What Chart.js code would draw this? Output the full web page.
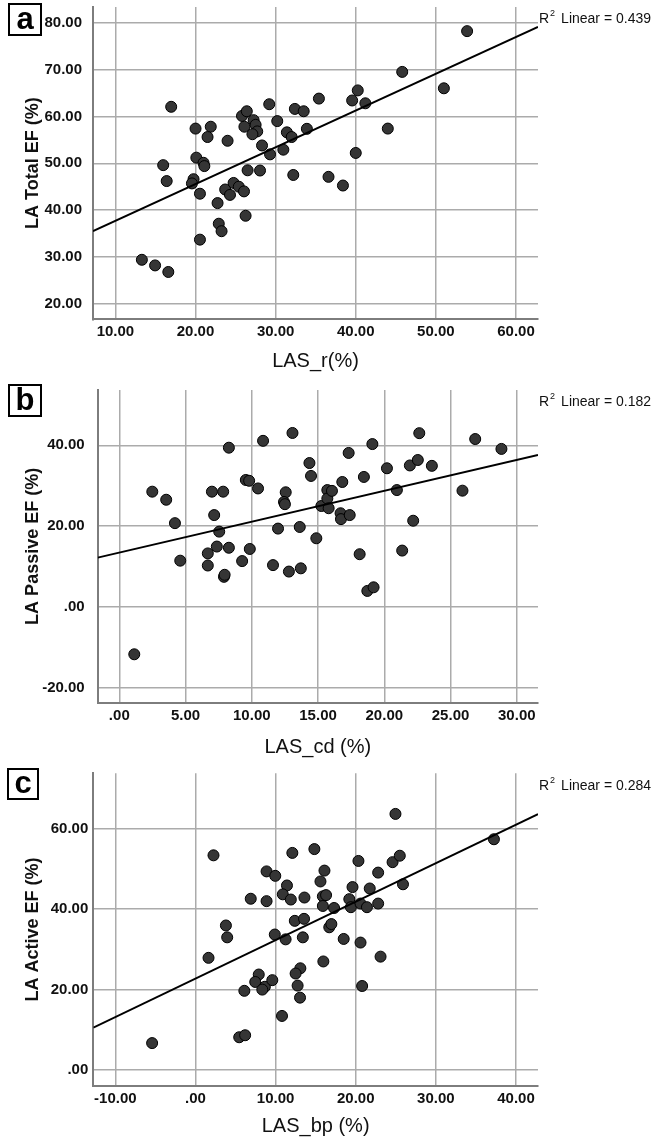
<!DOCTYPE html>
<html>
<head>
<meta charset="utf-8">
<script src="https://cdn.jsdelivr.net/npm/chart.js@4.4.1/dist/chart.umd.min.js"></script>
<style>
  body { margin: 0; background: #fff; width: 658px; height: 1143px; position: relative; overflow: hidden; }
  .panel { position: absolute; left: 0; }
  .tag { position: absolute; box-sizing: border-box; border: 2px solid #000; background: #fff;
         font: bold 31px "Liberation Sans", Arial, sans-serif; color: #000;
         display: flex; align-items: center; justify-content: center; line-height: 1; padding-bottom: 3px; }
</style>
</head>
<body>
<div class="panel" style="top:0"><canvas id="chartA" width="658" height="375"></canvas></div>
<div class="panel" style="top:375px"><canvas id="chartB" width="658" height="385"></canvas></div>
<div class="panel" style="top:760px"><canvas id="chartC" width="658" height="383"></canvas></div>
<div class="tag" style="left:8px;top:3px;width:34px;height:33px">a</div>
<div class="tag" style="left:8px;top:384px;width:34px;height:33px">b</div>
<div class="tag" style="left:7px;top:768px;width:32px;height:32px">c</div>
<script>
// panel a: LAS_r vs LA Total EF
const aX = [16.96, 15.96, 16.4, 20.0, 21.9, 21.5, 24.0, 20.1, 21.0, 21.1, 19.75, 19.55, 20.55, 23.7, 24.3, 22.75,
  24.75, 25.4, 26.05, 26.25, 22.9, 23.25, 20.55, 13.3, 14.95, 16.6, 25.8, 26.4, 26.1, 27.25, 27.5, 27.7, 27.1,
  29.2, 28.3, 26.5, 28.05, 29.3, 30.2, 30.96, 31.4, 32.0, 32.4, 33.5, 33.9, 35.4, 32.2, 36.6, 38.4, 40.25, 39.55,
  41.2, 44.0, 40.0, 45.8, 51.0, 53.9];
const aY = [62.05, 49.6, 46.2, 57.4, 57.8, 55.6, 54.8, 51.2, 50.1, 49.4, 46.6, 45.7, 43.5, 44.4, 43.25, 41.5,
  45.8, 45.0, 44.0, 38.8, 37.1, 35.5, 33.7, 29.4, 28.2, 26.8, 60.1, 61.1, 57.8, 59.2, 58.2, 56.8, 56.2,
  62.6, 53.8, 48.5, 48.45, 51.9, 59.0, 52.9, 56.6, 55.6, 61.6, 61.1, 57.35, 63.8, 47.5, 47.1, 45.25, 65.55, 63.4,
  62.8, 57.4, 52.2, 69.5, 66.0, 78.2];
const fitAX = [7.2, 62.75];
const fitAY = [35.5, 79.1];

// panel b: LAS_cd vs LA Passive EF
const bX = [2.49, 3.54, 4.2, 4.6, 6.99, 7.84, 7.16, 7.54, 7.36, 6.68, 8.27, 8.27, 6.68, 9.27, 9.85, 9.55, 9.8,
  10.47, 10.85, 13.07, 14.35, 14.47, 12.56, 12.43, 12.5, 11.98, 13.62, 14.87, 15.25, 15.7, 15.7, 15.8, 11.6,
  12.8, 13.7, 7.9, 7.95, 1.13, 16.05, 17.31, 19.1, 22.64, 21.93, 22.53, 23.59, 20.2, 18.46, 16.83, 20.95, 25.9,
  26.86, 28.84, 16.7, 16.73, 17.39, 22.18, 18.14, 21.35, 18.72, 19.19];
const bY = [28.5, 26.5, 20.7, 11.4, 28.5, 28.5, 22.7, 18.6, 14.9, 13.2, 14.6, 39.4, 10.2, 11.3, 14.3, 31.4, 31.2,
  29.3, 41.1, 43.05, 35.6, 32.4, 28.35, 25.95, 25.4, 19.35, 19.75, 16.95, 24.95, 28.9, 26.8, 24.4, 10.3,
  8.7, 9.5, 7.4, 7.9, -11.8, 28.7, 38.1, 40.3, 43.0, 35.0, 36.35, 34.9, 34.3, 32.15, 30.9, 28.9, 28.75,
  41.55, 39.1, 23.15, 21.7, 22.7, 21.3, 13.0, 13.9, 3.9, 4.8];
const fitBX = [-1.63, 31.6];
const fitBY = [12.15, 37.6];

// panel c: LAS_bp vs LA Active EF
const cX = [2.25, 8.875, 9.96, 12.09, 14.84, 16.1, 15.6, 11.42, 10.9, 11.9, 13.6, 6.9, 8.875, 15.9, 16.3, 15.9,
  12.4, 13.55, 16.7, 3.8, 3.96, 9.9, 11.25, 13.4, 24.96, 37.25, 20.34, 24.6, 25.5, 22.8, 25.9, 19.6, 21.75,
  19.2, 17.3, 19.4, 20.6, 21.4, 22.8, 16.96, 18.5, 20.6, 1.63, 15.96, 7.9, 7.46, 8.66, 8.34, 9.59, 6.1, 13.09,
  12.5, 12.75, 13.05, 10.8, 5.46, 6.2, -5.41, 23.1, 20.8];
const cY = [53.4, 49.4, 48.3, 54.0, 54.95, 49.6, 46.9, 45.9, 43.7, 42.4, 42.9, 42.6, 42.0, 43.2, 43.5, 40.8,
  37.1, 37.6, 35.5, 35.95, 33.0, 33.7, 32.5, 33.0, 63.7, 57.4, 52.0, 51.7, 53.3, 49.1, 46.2, 45.5, 45.15,
  42.5, 40.3, 40.5, 41.4, 40.5, 41.4, 36.3, 32.6, 31.7, 27.9, 27.0, 23.75, 21.9, 20.7, 20.0, 22.35, 19.7, 25.3,
  24.0, 21.0, 18.0, 13.45, 8.15, 8.65, 6.7, 28.2, 20.9];
const fitCX = [-12.75, 42.75];
const fitCY = [10.55, 63.66];

const FONT = '"Liberation Sans", Arial, sans-serif';
const fmt = v => v === 0 ? '.00' : v.toFixed(2);
const pairs = (xs, ys) => xs.map((x, i) => ({ x: x, y: ys[i] }));

// R² label to the right of the plot
const r2Plugin = {
  id: 'r2label',
  afterDraw(chart, args, opts) {
    const ctx = chart.ctx;
    let x = chart.chartArea.right + 1;
    const y = opts.y;
    ctx.save();
    ctx.fillStyle = '#111';
    ctx.textBaseline = 'middle';
    ctx.textAlign = 'left';
    ctx.font = '14px ' + FONT;
    ctx.fillText('R', x, y);
    x += ctx.measureText('R').width + 1;
    ctx.font = '9px ' + FONT;
    ctx.fillText('2', x, y - 5);
    x += ctx.measureText('2').width + 6;
    ctx.font = '14px ' + FONT;
    ctx.fillText('Linear = ' + opts.value, x, y);
    ctx.restore();
  }
};

function makePanel(id, p) {
  const canvas = document.getElementById(id);
  const H = canvas.height;
  return new Chart(canvas.getContext('2d'), {
    type: 'scatter',
    data: {
      datasets: [{
        type: 'line',
        data: pairs(p.fitX, p.fitY),
        borderColor: '#000',
        borderWidth: 2,
        pointRadius: 0,
        fill: false,
        order: 0
      }, {
        data: pairs(p.xs, p.ys),
        backgroundColor: '#353535',
        borderColor: '#000',
        borderWidth: 1,
        pointRadius: 5.5,
        order: 1
      }]
    },
    options: {
      responsive: false,
      animation: false,
      layout: { padding: { top: p.top, right: 658 - 538, left: 0, bottom: 0 } },
      plugins: {
        legend: { display: false },
        tooltip: { enabled: false },
        r2label: { y: p.r2y, value: p.r2 }
      },
      scales: {
        x: {
          type: 'linear',
          min: p.xMin, max: p.xMax,
          ticks: { stepSize: p.xStep, includeBounds: false, padding: 4, color: '#111',
                   font: { family: FONT, size: 15, weight: 'bold' }, callback: fmt, maxRotation: 0 },
          grid: { color: '#ababab', lineWidth: 1.5, drawTicks: false },
          border: { color: '#7d7d7d', width: 2 },
          title: { display: true, text: p.xTitle, color: '#111',
                   font: { family: FONT, size: 20 }, padding: { top: 0, bottom: p.xTitlePad } },
          afterFit: s => { s.height = H - p.bottom; s.paddingLeft = 0; s.paddingRight = 0; }
        },
        y: {
          type: 'linear',
          min: p.yMin, max: p.yMax,
          ticks: { stepSize: p.yStep, includeBounds: false, padding: p.yTickPad, color: '#111',
                   font: { family: FONT, size: 15, weight: 'bold' }, callback: fmt },
          grid: { color: '#ababab', lineWidth: 1.5, drawTicks: false },
          border: { color: '#7d7d7d', width: 2 },
          title: { display: true, text: p.yTitle, color: '#111',
                   font: { family: FONT, size: 18, weight: 'bold' }, padding: { top: 22, bottom: 0 } },
          afterFit: s => { s.width = p.left; s.paddingTop = 0; s.paddingBottom = 0; }
        }
      }
    },
    plugins: [r2Plugin]
  });
}

makePanel('chartA', {
  xs: aX, ys: aY, fitX: fitAX, fitY: fitAY,
  xMin: 7.2, xMax: 62.75, xStep: 10, yMin: 16.7, yMax: 83.35, yStep: 10,
  left: 93, top: 7, bottom: 319.3, xTitlePad: 2, yTickPad: 11,
  xTitle: 'LAS_r(%)', yTitle: 'LA Total EF (%)', r2: '0.439', r2y: 19
});
makePanel('chartB', {
  xs: bX, ys: bY, fitX: fitBX, fitY: fitBY,
  xMin: -1.63, xMax: 31.6, xStep: 5, yMin: -23.8, yMax: 53.7, yStep: 20,
  left: 97.7, top: 15, bottom: 327.7, xTitlePad: 1, yTickPad: 13,
  xTitle: 'LAS_cd (%)', yTitle: 'LA Passive EF (%)', r2: '0.182', r2y: 27
});
makePanel('chartC', {
  xs: cX, ys: cY, fitX: fitCX, fitY: fitCY,
  xMin: -12.75, xMax: 42.75, xStep: 10, yMin: -3.9, yMax: 73.8, yStep: 20,
  left: 93.3, top: 13.3, bottom: 325.7, xTitlePad: 5, yTickPad: 5,
  xTitle: 'LAS_bp (%)', yTitle: 'LA Active EF (%)', r2: '0.284', r2y: 26
});
</script>
</body>
</html>
